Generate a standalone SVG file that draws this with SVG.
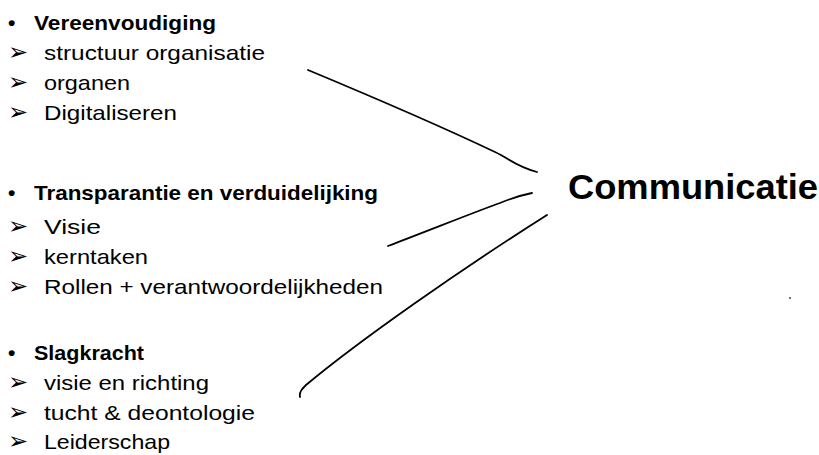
<svg xmlns="http://www.w3.org/2000/svg" width="819" height="455" viewBox="0 0 819 455">
<style>
.t{font-family:"Liberation Sans",Arial,sans-serif;font-size:21px;fill:#000}
.b{font-family:"Liberation Sans",Arial,sans-serif;font-size:21px;font-weight:bold;fill:#000}
.a{font-family:"DejaVu Sans",sans-serif;font-size:24px;fill:#000}
.c{fill:none;stroke:#000;stroke-width:1.8;stroke-linecap:round}
</style>
<rect width="819" height="455" fill="#fff"/>
<g id="group1">
<text class="b" x="8" y="30">•</text><text class="b" x="34" y="30" textLength="182" lengthAdjust="spacingAndGlyphs">Vereenvoudiging</text>
<text class="a" x="8" y="60">➢</text><text class="t" x="44" y="60" textLength="221" lengthAdjust="spacingAndGlyphs">structuur organisatie</text>
<text class="a" x="8" y="90">➢</text><text class="t" x="44" y="90" textLength="86" lengthAdjust="spacingAndGlyphs">organen</text>
<text class="a" x="8" y="120">➢</text><text class="t" x="44" y="120" textLength="133" lengthAdjust="spacingAndGlyphs">Digitaliseren</text>
</g>
<g id="group2">
<text class="b" x="8" y="200">•</text><text class="b" x="34" y="200" textLength="344" lengthAdjust="spacingAndGlyphs">Transparantie en verduidelijking</text>
<text class="a" x="8" y="234">➢</text><text class="t" x="44" y="234" textLength="57" lengthAdjust="spacingAndGlyphs">Visie</text>
<text class="a" x="8" y="264">➢</text><text class="t" x="44" y="264" textLength="104" lengthAdjust="spacingAndGlyphs">kerntaken</text>
<text class="a" x="8" y="294">➢</text><text class="t" x="44" y="294" textLength="339" lengthAdjust="spacingAndGlyphs">Rollen + verantwoordelijkheden</text>
</g>
<g id="group3">
<text class="b" x="8" y="360">•</text><text class="b" x="34" y="360" textLength="110" lengthAdjust="spacingAndGlyphs">Slagkracht</text>
<text class="a" x="8" y="390">➢</text><text class="t" x="44" y="390" textLength="165" lengthAdjust="spacingAndGlyphs">visie en richting</text>
<text class="a" x="8" y="420">➢</text><text class="t" x="44" y="420" textLength="211" lengthAdjust="spacingAndGlyphs">tucht &amp; deontologie</text>
<text class="a" x="8" y="449">➢</text><text class="t" x="44" y="449" textLength="126" lengthAdjust="spacingAndGlyphs">Leiderschap</text>
</g>
<g id="communicatie">
<text class="b" x="568" y="199" style="font-size:35px" textLength="250" lengthAdjust="spacingAndGlyphs">Communicatie</text>
</g>
<g id="connectors">
<path class="c" d="M308 70 C380 100 455 133 495 152 C510 159 515 166 537 172"/>
<path class="c" d="M388 246 C430 230 480 210 500 203 C512 198 522 195 532 193"/>
<path class="c" d="M300 397 C299 392 302 389 306 385 C360 340 460 270 547 215"/>
</g>
<circle cx="790" cy="298" r="1" fill="#444"/>
</svg>
